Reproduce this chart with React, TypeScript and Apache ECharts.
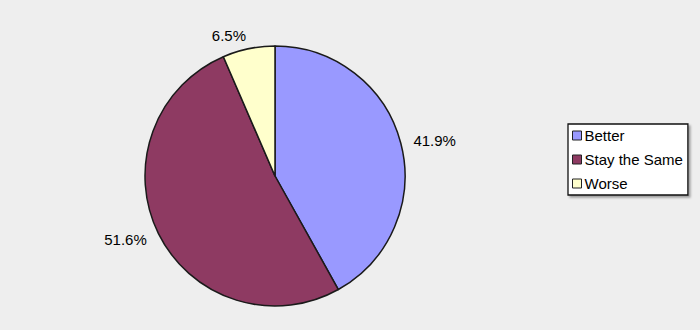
import React, { useEffect, useRef } from "react";
import * as echarts from "echarts";

const categories = ["Better", "Stay the Same", "Worse"];
const values = [41.9, 51.6, 6.5];
const colors = ["#9999FF", "#8E3A62", "#FFFFCC"];

export default function App() {
  const ref = useRef<HTMLDivElement>(null);
  useEffect(() => {
    document.body.style.margin = "0";
    const chart = echarts.init(ref.current!, undefined, { renderer: "svg" });
    chart.setOption({
      animation: false,
      backgroundColor: "#EEEEEE",
      textStyle: { fontFamily: "Liberation Sans, Arial, sans-serif" },
      legend: {
        orient: "vertical",
        left: 568,
        top: 124,
        backgroundColor: "#FFFFFF",
        borderColor: "#111111",
        borderWidth: 1.3,
        padding: [4, 5, 4, 4],
        itemWidth: 9,
        itemHeight: 9,
        itemGap: 9,
        icon: "rect",
        shadowColor: "rgba(0,0,0,0.35)",
        shadowBlur: 2,
        shadowOffsetX: 2,
        shadowOffsetY: 2,
        itemStyle: { borderColor: "#222222", borderWidth: 1 },
        textStyle: { fontSize: 15, color: "#000000", padding: [0, 0, 0, -2] },
        data: categories,
      },
      series: [
        {
          type: "pie",
          center: [275, 176],
          radius: 130,
          startAngle: 90,
          clockwise: true,
          itemStyle: {
            borderColor: "#1A1A1A",
            borderWidth: 1.5,
          },
          label: {
            show: true,
            position: "outside",
            fontSize: 15,
            color: "#000000",
            distanceToLabelLine: 0,
            formatter: (p: any) => p.value.toFixed(1) + "%",
          },
          labelLine: { show: false, length: 13, length2: 0 },
          emphasis: { disabled: true },
          data: categories.map((name, i) => ({
            name,
            value: values[i],
            itemStyle: { color: colors[i] },
          })),
        },
      ],
    });
    return () => chart.dispose();
  }, []);
  return <div ref={ref} style={{ width: 700, height: 330 }} />;
}
